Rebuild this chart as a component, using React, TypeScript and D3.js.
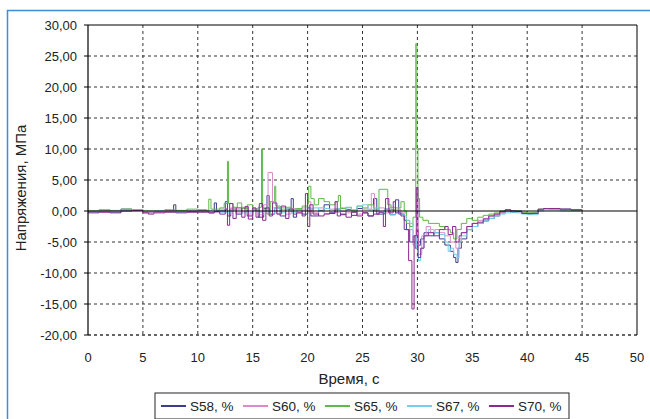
import React from "react";
import * as d3 from "d3";

type Pt = [number, number];

const seriesNames = ["S58, %", "S60, %", "S65, %", "S67, %", "S70, %"];
const seriesColors = ["#3d3d8f", "#d98cc8", "#5dbb46", "#74d0e6", "#8a2a8e"];

const s58: Pt[] = [[0,-0.1],[1,0],[2,-0.2],[3,0.3],[4,0.2],[5,-0.2],[6,-0.1],[7,0],[7.8,1.0],[8,0],[9,-0.1],[10,0.1],[11,-0.3],[11.5,1.3],[11.7,0],[12.5,1.5],[12.7,-0.8],[13,0.3],[13.5,-0.5],[14,0.5],[14.5,-0.8],[15,0.2],[15.5,-1],[16,0.4],[16.3,2.5],[16.5,-0.5],[17,0.5],[17.5,-0.8],[18,0.3],[18.5,2],[18.7,-1],[19,0.2],[19.5,-0.5],[20,0.5],[20.3,-0.8],[21,0.1],[21.5,1],[22,-0.4],[22.5,0.3],[23,-0.6],[23.5,0.2],[24,-0.7],[24.5,0.4],[25,-0.3],[25.5,-0.8],[26,2],[26.3,-0.5],[27,0.3],[27.5,-0.6],[28,1.8],[28.3,-0.5],[28.8,-1.5],[29,-3],[29.3,-5],[29.6,-4],[29.8,-6],[30,-5.5],[30.3,-4.5],[30.6,-3.5],[31,-4],[31.5,-3.5],[32,-4.5],[32.5,-5.5],[33,-6.5],[33.3,-7.5],[33.5,-8.3],[33.7,-6],[34,-4.5],[34.5,-3],[35,-2.5],[35.5,-2],[36,-1.6],[36.5,-1.2],[37,-0.8],[37.5,-0.3],[38,0],[38.5,-0.2],[39,0],[39.5,-0.3],[40,-0.5],[40.5,-0.3],[41,0.2],[41.5,0.4],[42,0.3],[43,0.3],[44,0.1],[45,0.1]];

const s60: Pt[] = [[0,0],[1,-0.1],[2,0.1],[3,0.2],[4,0.1],[5,-0.3],[6,-0.2],[7,0],[8,-0.1],[9,0.1],[10,0],[11,-0.2],[12,0.3],[12.7,-0.5],[13,0.5],[13.5,-0.3],[14,0.6],[14.5,-0.5],[15,0.4],[15.5,-0.6],[16,1],[16.4,6.2],[16.8,0.5],[17.2,-0.4],[17.6,0.6],[18,-0.5],[18.5,0.4],[19,-0.3],[19.5,0.5],[20,1.5],[20.3,-0.3],[21,0.5],[21.5,-0.4],[22,0.3],[22.5,-0.2],[23,0.5],[23.5,-0.3],[24,0.2],[24.5,-0.5],[25,0.3],[25.8,2.8],[26.1,0],[26.5,0.5],[27,-0.3],[27.5,0.6],[28,0.2],[28.5,-0.3],[29,-1.5],[29.3,-3],[29.6,-5.5],[29.9,-3],[30.1,-7],[30.4,-4],[30.8,-2.5],[31.2,-3.5],[31.6,-3],[32,-3.5],[32.5,-4],[33,-5],[33.5,-6],[33.8,-4.5],[34,-3.5],[34.5,-2.5],[35,-2],[35.5,-1.5],[36,-1.2],[36.5,-0.8],[37,-0.5],[37.5,-0.2],[38,0.1],[38.5,0],[39,-0.1],[39.5,-0.3],[40,-0.3],[41,0.2],[41.5,0.4],[42,0.3],[43,0.2],[44,0.2],[45,0]];

const s65: Pt[] = [[0,0],[1,0.2],[2,0],[3,0.3],[4,0.2],[5,0],[6,0],[7,0.2],[8,0.1],[9,0.3],[10,0.2],[10.8,0],[11,1.9],[11.2,0.3],[12,0.5],[12.4,1.2],[12.7,8],[12.8,1.2],[13.2,0.6],[13.6,1.3],[14,0.4],[14.5,1],[15,0.2],[15.5,0.6],[15.8,10],[15.9,0.5],[16.3,-0.5],[16.6,1.5],[17,4],[17.1,0.8],[17.5,0.3],[18,0.6],[18.5,0.2],[19,0.4],[19.5,0.8],[20,1.2],[20.1,4],[20.3,2],[20.6,1],[21,2],[21.5,1.5],[22,1],[22.5,1.5],[22.8,2.5],[23,0.4],[23.5,0.6],[24,0],[24.5,0.8],[25,0.5],[25.5,1],[26,0.3],[26.5,3.5],[27.3,1],[27.6,0.2],[28,0.5],[28.5,1.5],[28.8,0],[29,-2],[29.3,-2.5],[29.6,-1],[29.85,27],[29.95,10],[30.05,2],[30.2,-1],[30.5,-1.5],[31,-2],[31.5,-2],[32,-2.5],[32.5,-3],[33,-3.5],[33.3,-4.5],[33.6,-3],[34,-2],[34.5,-1.2],[35,-1.5],[35.5,-1],[36,-0.7],[36.5,-0.5],[37,-0.3],[37.5,0],[38,0.2],[38.5,0],[39,0],[39.5,-0.2],[40,-0.3],[41,0.3],[41.5,0.4],[42,0.3],[43,0.2],[44,0.1],[45,0.1]];

const s67: Pt[] = [[0,-0.2],[1,-0.1],[2,-0.2],[3,0.1],[4,0.2],[5,-0.1],[6,0],[7,-0.1],[8,-0.2],[9,0],[10,-0.1],[11,0],[12,-0.2],[13,0.2],[14,-0.3],[15,0.3],[15.5,-0.2],[16,0.2],[16.5,-0.4],[17,0.5],[17.5,-0.3],[18,0.3],[18.5,-0.2],[19,0.2],[20,0.3],[20.5,0.5],[21,0],[21.5,0.4],[22,-0.2],[22.5,0.3],[23,-0.1],[23.5,0.5],[24,-0.2],[24.5,0.8],[25,1],[25.5,0.2],[26,0.5],[26.5,-0.3],[27,0.3],[27.5,-0.6],[28,-0.3],[28.5,-0.5],[28.8,-0.8],[29,-1.5],[29.3,-2],[29.6,-4],[29.9,-6],[30.1,-8],[30.3,-6],[30.6,-4],[31,-3],[31.5,-3.5],[32,-3.8],[32.5,-5],[32.8,-6.5],[33,-6],[33.3,-7],[33.6,-7.5],[33.8,-5],[34,-4],[34.5,-3],[35,-2.5],[35.5,-2],[36,-1.5],[36.5,-1.2],[37,-0.8],[37.5,-0.5],[38,-0.3],[38.5,-0.2],[39,-0.3],[39.5,-0.5],[40,-0.6],[41,0],[41.5,0.2],[42,0.2],[43,0],[44,0],[45,-0.1]];

const s70: Pt[] = [[0,-0.3],[1,-0.2],[2,-0.3],[3,0],[4,0.1],[5,-0.3],[5.5,-0.5],[6,-0.3],[7,-0.2],[8,-0.3],[9,-0.2],[10,-0.2],[11,-0.3],[11.5,-0.1],[12,-0.5],[12.5,0.3],[12.7,-2.3],[12.9,1.2],[13.2,-1.2],[13.5,0.5],[14,-1],[14.3,0.7],[14.6,-1.3],[15,0.5],[15.3,-1],[15.6,1.2],[15.9,-1.5],[16.2,0.5],[16.5,-0.8],[16.8,1.3],[17.2,-0.5],[17.6,0.8],[18,-1.2],[18.3,0.3],[18.7,-0.5],[19,-0.3],[19.5,-0.8],[19.8,2.8],[20,-2.5],[20.2,1],[20.5,-0.5],[21,-0.8],[21.5,-0.5],[22,-0.3],[22.5,1.5],[22.7,-0.8],[23,-0.5],[23.5,-1],[24,-0.2],[24.5,-0.8],[25,-0.3],[25.5,-0.8],[26,-0.5],[26.5,-0.2],[26.9,-2.5],[27.1,2],[27.4,-0.3],[27.8,1.5],[28,-0.3],[28.5,-0.8],[28.8,-3],[29.2,-8],[29.5,-15.8],[29.7,-4],[29.9,3.8],[30.05,-7.5],[30.3,-6],[30.6,-4],[31,-3.5],[31.5,-4],[32,-3],[32.5,-2.5],[32.8,-3.8],[33.2,-2.5],[33.5,-5],[33.8,-4],[34,-3.5],[34.5,-2.5],[35,-2],[35.5,-1.8],[36,-1.3],[36.5,-0.8],[37,-0.5],[37.5,-0.1],[38,0.2],[38.5,0],[39,-0.1],[39.5,-0.4],[40,-0.4],[41,0.3],[41.5,0.4],[42,0.4],[43,0.3],[44,0.2],[45,0]];

const seriesData: Pt[][] = [s58, s60, s65, s67, s70];

const xTicks = [0, 5, 10, 15, 20, 25, 30, 35, 40, 45, 50];
const yTicks = [-20, -15, -10, -5, 0, 5, 10, 15, 20, 25, 30];

const xTitle = "Время, с";
const yTitle = "Напряжения, МПа";

export default function App() {
  const W = 650, H = 419;
  const left = 88, right = 637, top = 25, bottom = 335;
  const x = d3.scaleLinear().domain([0, 50]).range([left, right]);
  const y = d3.scaleLinear().domain([-20, 30]).range([bottom, top]);
  const line = d3.line<Pt>().x(d => x(d[0])).y(d => y(d[1])).curve(d3.curveStepAfter);
  const fmt = (v: number) => v.toFixed(2).replace(".", ",");
  const font = "'Liberation Sans', Arial, sans-serif";
  const legendX = 155, legendW = 414, legendY = 393, legendH = 26;
  return (
    <svg width={W} height={H} style={{ position: "absolute", left: 0, top: 0, background: "#fff" }} fontFamily={font}>
      <rect x={7.5} y={10.5} width={700} height={500} fill="#fff" stroke="#3a8fd8" strokeWidth={1.5} />
      {xTicks.filter(t => t > 0 && t < 50).map(t => (
        <line key={"gx" + t} x1={x(t)} x2={x(t)} y1={top} y2={bottom} stroke="#333" strokeWidth={1} strokeDasharray="3,3" />
      ))}
      {yTicks.filter(t => t !== 0 && t < 30).map(t => (
        <line key={"gy" + t} x1={left} x2={right} y1={y(t)} y2={y(t)} stroke="#333" strokeWidth={t === -20 ? 1.3 : 1} strokeDasharray="3,3" />
      ))}
      <line x1={left} x2={right} y1={top} y2={top} stroke="#000" strokeWidth={1} />
      <line x1={right} x2={right} y1={top} y2={bottom} stroke="#000" strokeWidth={1} />
      {seriesData.map((d, i) => (
        <path key={"s" + i} d={line(d) || ""} fill="none" stroke={seriesColors[i]} strokeWidth={1} />
      ))}
      <line x1={left} x2={right} y1={y(0)} y2={y(0)} stroke="#000" strokeWidth={1.2} />
      <line x1={left} x2={left} y1={top} y2={bottom} stroke="#000" strokeWidth={1.2} />
      {yTicks.map(t => (
        <g key={"yt" + t}>
          <line x1={left - 4} x2={left} y1={y(t)} y2={y(t)} stroke="#000" />
          <text x={77} y={y(t)} dy="0.35em" textAnchor="end" fontSize={13} fill="#222">{fmt(t)}</text>
        </g>
      ))}
      {xTicks.map(t => (
        <text key={"xt" + t} x={x(t)} y={362} textAnchor="middle" fontSize={13} fill="#222">{t}</text>
      ))}
      <text x={349} y={384} textAnchor="middle" fontSize={15} fill="#222">{xTitle}</text>
      <text transform={`translate(26,188) rotate(-90)`} textAnchor="middle" fontSize={15} fill="#222">{yTitle}</text>
      <rect x={legendX} y={legendY} width={legendW} height={legendH} fill="#fff" stroke="#222" strokeWidth={1} />
      {seriesNames.map((n, i) => {
        const lx = 161 + i * 82;
        return (
          <g key={"lg" + i}>
            <line x1={lx} x2={lx + 25} y1={406} y2={406} stroke={seriesColors[i]} strokeWidth={2} />
            <text x={lx + 29} y={406} dy="0.35em" fontSize={13.5} fill="#222">{n}</text>
          </g>
        );
      })}
    </svg>
  );
}
